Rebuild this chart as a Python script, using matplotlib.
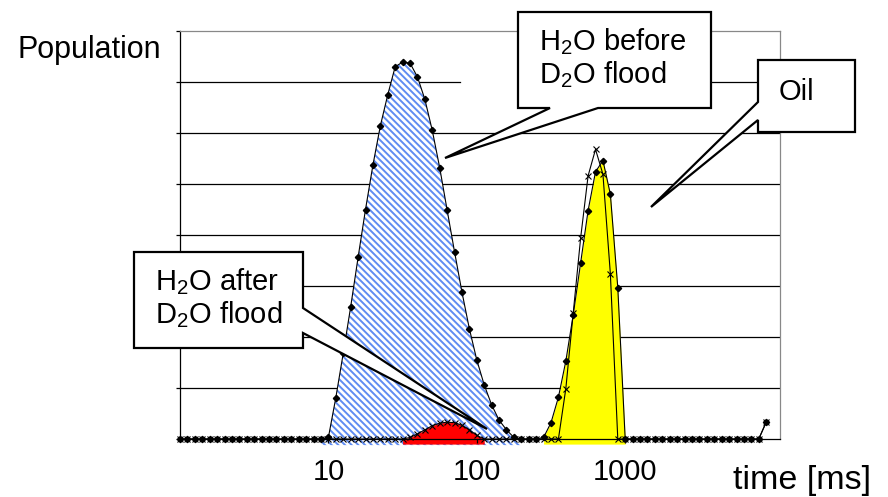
import numpy as np
import matplotlib
matplotlib.use("Agg")
import matplotlib.pyplot as plt
from matplotlib.patches import Polygon
from matplotlib.transforms import Affine2D

plt.rcParams['font.family'] = ['Liberation Sans', 'DejaVu Sans']
plt.rcParams['mathtext.fontset'] = 'custom'
plt.rcParams['mathtext.rm'] = 'Liberation Sans'
plt.rcParams['hatch.linewidth'] = 1.4

# T2 bins, 20 per decade starting at 1 ms
t2_ms = np.logspace(0, 79 / 20, 80)

# population before the D2O flood (water peak + oil peak)
before = ([0] * 20
          + [0.03, 0.81, 1.68, 2.59, 3.56, 4.50, 5.37, 6.14, 6.75, 7.30,
             7.39, 7.37, 7.10, 6.66, 6.05, 5.32, 4.49, 3.67, 2.88, 2.16,
             1.55, 1.06, 0.67, 0.37, 0.18, 0.03]
          + [0] * 3
          + [0.03, 0.32, 0.82, 1.53, 2.44, 3.46, 4.48, 5.24, 5.46, 4.80, 2.97, 0.0]
          + [0] * 18
          + [0.33])

# population after the D2O flood
after = ([0] * 31
         + [0.03, 0.10, 0.18, 0.26, 0.31, 0.33, 0.32, 0.27, 0.18, 0.07]
         + [0] * 10
         + [0.0, 0.99, 2.48, 3.95, 5.16, 5.68, 5.19, 3.24, 0.0]
         + [0] * 19
         + [0.33])

water_before = slice(19, 47)
water_after = slice(30, 42)
oil = slice(49, 61)

xticks = [10, 100, 1000]
xtick_labels = ['10', '100', '1000']

W, H = 888, 497
fig = plt.figure(figsize=(W / 100, H / 100), dpi=100)
ax = fig.add_axes([180 / W, (H - 439) / H, 600 / W, 408 / H])
px = Affine2D().scale(1, -1).translate(0, H)  # pixel coords, y down

t2 = np.array(t2_ms)
b = np.array(before)
a = np.array(after)

# filled areas
ax.fill_between(t2[water_before], -0.12, b[water_before], facecolor='white',
                edgecolor='#5f8cf2', hatch='\\' * 5, linewidth=0, zorder=1, clip_on=False)
ax.fill_between(t2[water_after], -0.1, a[water_after], color='#ff0000',
                linewidth=0, zorder=1.2, clip_on=False)
ax.fill_between(t2[oil], -0.1, b[oil], color='#ffff00',
                linewidth=0, zorder=1.2, clip_on=False)

# data lines
ax.plot(t2, b, color='black', lw=0.8, marker='D', ms=3.2, zorder=3, clip_on=False)
ax.plot(t2, a, color='black', lw=0.8, marker='x', ms=4, mew=0.8, zorder=3, clip_on=False)

# gridlines (the top one is partly hidden in the original)
for y in range(1, 7):
    ax.axhline(y, color='black', lw=0.9, zorder=0.5)
ax.axhline(7, xmin=0, xmax=(460 - 180) / 600, color='black', lw=0.9, zorder=0.5)
ax.axhline(7, xmin=(711 - 180) / 600, xmax=1, color='black', lw=0.9, zorder=0.5)

ax.set_xscale('log')
ax.set_xlim(1, 10 ** (600 / 148.4))
ax.set_ylim(0, 8)
ax.set_xticks(xticks)
ax.set_xticklabels(xtick_labels)
ax.xaxis.set_minor_locator(matplotlib.ticker.NullLocator())
ax.set_yticks(range(9))
ax.set_yticklabels([])
ax.tick_params(axis='both', direction='out', length=3, width=0.9, color='black')
ax.tick_params(axis='x', labelsize=21, pad=11)
for side in ['top', 'right']:
    ax.spines[side].set_color('#888888')
for side in ['left', 'bottom']:
    ax.spines[side].set_color('black')
for sp in ax.spines.values():
    sp.set_linewidth(0.9)

fig.text(18, 58, 'Population', transform=px, fontsize=22, va='baseline', ha='left')
fig.text(733, 489, 'time [ms]', transform=px, fontsize=24.5, va='baseline', ha='left')

# callouts
callouts = [
    [(518, 12), (711, 12), (711, 108), (598, 108), (445, 158), (550, 108), (518, 108)],
    [(758, 60), (855, 60), (855, 132), (758, 132), (758, 120), (651, 207), (758, 102)],
    [(134, 252), (303, 252), (303, 308), (487, 429), (303, 333), (303, 348), (134, 348)],
]
for verts in callouts:
    fig.add_artist(Polygon(verts, closed=True, transform=px, facecolor='white',
                           edgecolor='black', lw=1.6, zorder=5))

label_kw = dict(transform=px, fontsize=21, va='baseline', ha='left', zorder=6)
fig.text(539, 50, 'H$_2$O before', **label_kw)
fig.text(539, 83, 'D$_2$O flood', **label_kw)
fig.text(779, 100, 'Oil', **label_kw)
fig.text(155, 290, 'H$_2$O after', **label_kw)
fig.text(155, 323, 'D$_2$O flood', **label_kw)

fig.savefig('out.png', dpi=100)
